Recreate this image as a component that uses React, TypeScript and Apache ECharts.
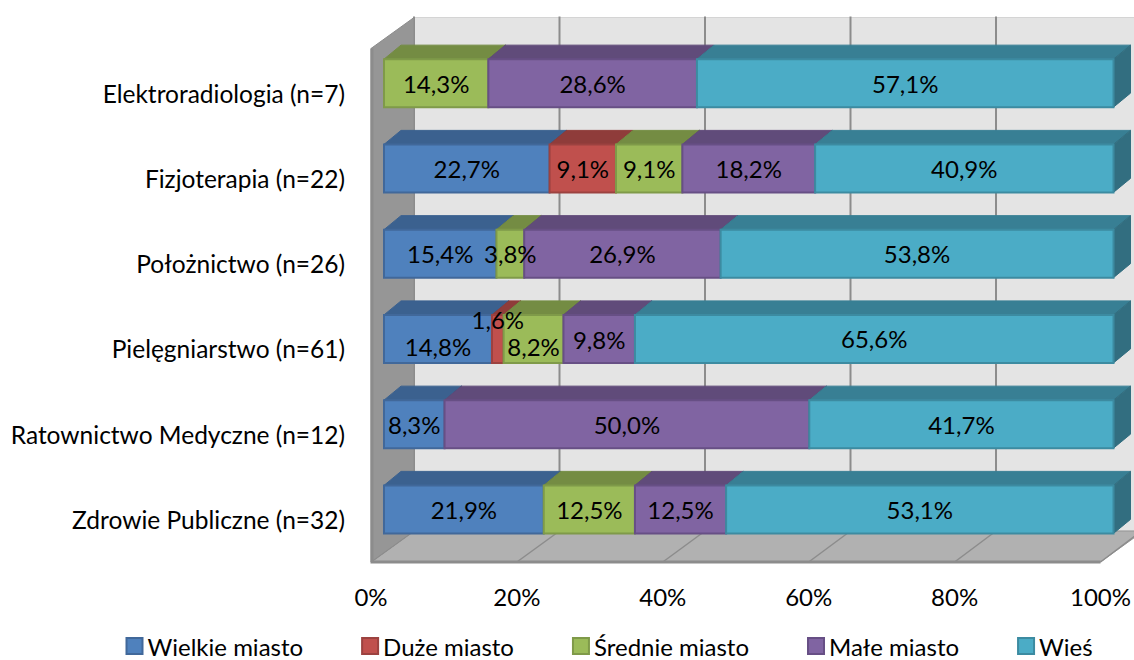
import React, { useEffect, useRef } from "react";
import * as echarts from "echarts";

const categories = [
  "Elektroradiologia (n=7)",
  "Fizjoterapia (n=22)",
  "Położnictwo (n=26)",
  "Pielęgniarstwo (n=61)",
  "Ratownictwo Medyczne (n=12)",
  "Zdrowie Publiczne (n=32)",
];
const seriesNames = ["Wielkie miasto", "Duże miasto", "Średnie miasto", "Małe miasto", "Wieś"];
const wielkieMiasto = [0, 22.7, 15.4, 14.8, 8.3, 21.9];
const duzeMiasto = [0, 9.1, 0, 1.6, 0, 0];
const sredniaMiasto = [14.3, 9.1, 3.8, 8.2, 0, 12.5];
const maleMiasto = [28.6, 18.2, 26.9, 9.8, 50.0, 12.5];
const wies = [57.1, 40.9, 53.8, 65.6, 41.7, 53.1];
const seriesValues = [wielkieMiasto, duzeMiasto, sredniaMiasto, maleMiasto, wies];
const tickValues = [0, 20, 40, 60, 80, 100];

const FRONT = ["#4F81BD", "#C0504D", "#9BBB59", "#8064A2", "#4BACC6"];
const EDGE = ["#41689A", "#9C4240", "#7F9A49", "#674F85", "#3C8BA1"];
const TOP = ["#3B618F", "#8F3C3A", "#748C43", "#604B7A", "#387F94"];
const SIDE = ["#32527A", "#7A3331", "#637739", "#523F68", "#326E80"];

// label nudges for the hand-placed labels of the original: "row:series" -> [dx, dy]
const labelNudge: Record<string, number[]> = {
  "3:0": [0, 8],
  "3:1": [0, -19],
  "3:2": [0, 8],
  "3:3": [0, 1],
};

const GRID_LEFT = 371;
const GRID_TOP = 50.5;
const GRID_W = 733;
const GRID_H = 511.5;
const WALL_XS = 731 / 733;
const BAR_X0 = 13;
const BAR_DY0 = -10;
const BAR_HALF = 24;
const DX = 17;
const DY = 14;
const WALL_DX = 43;
const WALL_DY = 31;
const FONT = "Lato";
const FS = 24.5;
const LABEL_FS = 24;

const barX = (c: number) => c + BAR_X0;

const rowTotal = (r: number) => seriesValues.reduce((s, v) => s + v[r], 0);
const startOf = (r: number, s: number) => {
  let c = 0;
  for (let i = 0; i < s; i++) c += seriesValues[i][r];
  return (c / rowTotal(r)) * 100;
};
const fmt = (v: number) => v.toFixed(1).replace(".", ",") + "%";

function wallRender(_p: any, api: any) {
  const bottom = GRID_TOP + GRID_H;
  const top = GRID_TOP - 2;
  const left = GRID_LEFT;
  const right = api.coord([100, 0])[0];
  const children: any[] = [
    {
      type: "polygon",
      shape: { points: [[left + WALL_DX, top - WALL_DY], [right + WALL_DX, top - WALL_DY], [right + WALL_DX, bottom - WALL_DY], [left + WALL_DX, bottom - WALL_DY]] },
      style: { fill: "#E4E4E4", stroke: "#D4D4D4", lineWidth: 1 },
    },
    {
      type: "polygon",
      shape: { points: [[left, bottom], [right, bottom], [right + WALL_DX, bottom - WALL_DY], [left + WALL_DX, bottom - WALL_DY]] },
      style: { fill: "#B1B1B1", stroke: "#969696", lineWidth: 1 },
    },
  ];
  tickValues.forEach((t) => {
    const cx = api.coord([t, 0])[0];
    const bx = GRID_LEFT + WALL_DX + (cx - GRID_LEFT) * WALL_XS;
    children.push({
      type: "line",
      shape: { x1: bx, y1: top - WALL_DY - 1, x2: bx, y2: bottom - WALL_DY },
      style: { stroke: "#8C8C8C", lineWidth: 2 },
    });
    children.push({
      type: "line",
      shape: { x1: cx, y1: bottom, x2: bx, y2: bottom - WALL_DY },
      style: { stroke: "#8C8C8C", lineWidth: 1.5 },
    });
  });
  children.push({
    type: "polygon",
    shape: { points: [[left, top], [left + WALL_DX, top - WALL_DY], [left + WALL_DX, bottom - WALL_DY], [left, bottom]] },
    style: { fill: "#969696", stroke: "#8C8C8C", lineWidth: 1 },
  });
  children.push({
    type: "polyline",
    shape: { points: [[left + 1, top], [left + 1, bottom], [right, bottom]] },
    style: { fill: "none", stroke: "#8C8C8C", lineWidth: 3 },
  });
  return { type: "group", children };
}

const barRender = (s: number) => (_p: any, api: any) => {
  const a = api.coord([api.value(0), api.value(2)]);
  const b = api.coord([api.value(1), api.value(2)]);
  const x1 = barX(a[0]);
  const x2 = barX(b[0]);
  const cy = a[1] + BAR_DY0;
  const t = cy - BAR_HALF;
  const u = cy + BAR_HALF;
  return {
    type: "group",
    children: [
      {
        type: "polygon",
        shape: { points: [[x1, t], [x2, t], [x2 + DX, t - DY], [x1 + DX, t - DY]] },
        style: { fill: TOP[s], stroke: TOP[s], lineWidth: 1 },
      },
      {
        type: "polygon",
        shape: { points: [[x2, t], [x2 + DX, t - DY], [x2 + DX, u - DY], [x2, u]] },
        style: { fill: SIDE[s], stroke: SIDE[s], lineWidth: 1 },
      },
      {
        type: "rect",
        shape: { x: x1, y: t, width: x2 - x1, height: u - t },
        style: { fill: FRONT[s], stroke: EDGE[s], lineWidth: 2 },
      },
    ],
  };
};

function labelRender(_p: any, api: any) {
  const c = api.coord([api.value(0), api.value(1)]);
  const r = api.value(1);
  const s = api.value(2);
  const n = labelNudge[r + ":" + s] || [0, 0];
  return {
    type: "text",
    style: {
      x: barX(c[0]) + n[0],
      y: c[1] + BAR_DY0 + n[1],
      text: fmt(seriesValues[s][r]),
      align: "center",
      verticalAlign: "middle",
      fill: "#000000",
      font: `${LABEL_FS}px ${FONT}`,
    },
  };
}

export default function App() {
  const ref = useRef<HTMLDivElement>(null);
  useEffect(() => {
    const chart = echarts.init(ref.current!, undefined, { renderer: "svg" });
    const barSeries = seriesNames.map((name, s) => ({
      type: "custom",
      name,
      z: 3,
      silent: true,
      renderItem: barRender(s),
      encode: { x: [0, 1], y: 2 },
      itemStyle: { color: FRONT[s], borderColor: EDGE[s], borderWidth: 2 },
      data: categories
        .map((_, r) => [startOf(r, s), startOf(r, s + 1), r])
        .filter((d) => d[1] - d[0] > 0),
    }));
    const labelData: number[][] = [];
    categories.forEach((_, r) =>
      seriesNames.forEach((__, s) => {
        if (seriesValues[s][r] > 0) labelData.push([(startOf(r, s) + startOf(r, s + 1)) / 2, r, s]);
      })
    );
    chart.setOption({
      animation: false,
      backgroundColor: "#FFFFFF",
      grid: { left: GRID_LEFT, top: GRID_TOP, width: GRID_W, height: GRID_H, containLabel: false },
      xAxis: {
        type: "value",
        min: 0,
        max: 100,
        interval: 20,
        axisLine: { show: false },
        axisTick: { show: false },
        splitLine: { show: false },
        axisLabel: { formatter: "{value}%", color: "#000", fontFamily: FONT, fontSize: 24, margin: 22 },
      },
      yAxis: {
        type: "category",
        inverse: true,
        data: categories,
        axisLine: { show: false },
        axisTick: { show: false },
        splitLine: { show: false },
        axisLabel: { color: "#000", fontFamily: FONT, fontSize: FS, margin: 26, align: "right" },
      },
      legend: {
        left: 125.5,
        top: 634,
        padding: 0,
        selectedMode: false,
        itemWidth: 16,
        itemHeight: 16,
        itemGap: 58,
        textStyle: { color: "#000", fontFamily: FONT, fontSize: 24, lineHeight: 20, height: 20 },
        data: seriesNames.map((name, s) => ({
          name,
          icon: "rect",
          itemStyle: { color: FRONT[s], borderColor: EDGE[s], borderWidth: 2 },
        })),
      },
      series: [
        {
          type: "custom",
          name: "walls",
          z: 1,
          silent: true,
          renderItem: wallRender,
          encode: { x: 0, y: 1 },
          data: [[0, 0]],
        },
        ...barSeries,
        {
          type: "custom",
          name: "labels",
          z: 5,
          silent: true,
          renderItem: labelRender,
          encode: { x: 0, y: 1 },
          data: labelData,
        },
      ],
    });
    return () => chart.dispose();
  }, []);
  return <div ref={ref} style={{ position: "absolute", left: 0, top: 0, width: 1134, height: 660 }} />;
}
